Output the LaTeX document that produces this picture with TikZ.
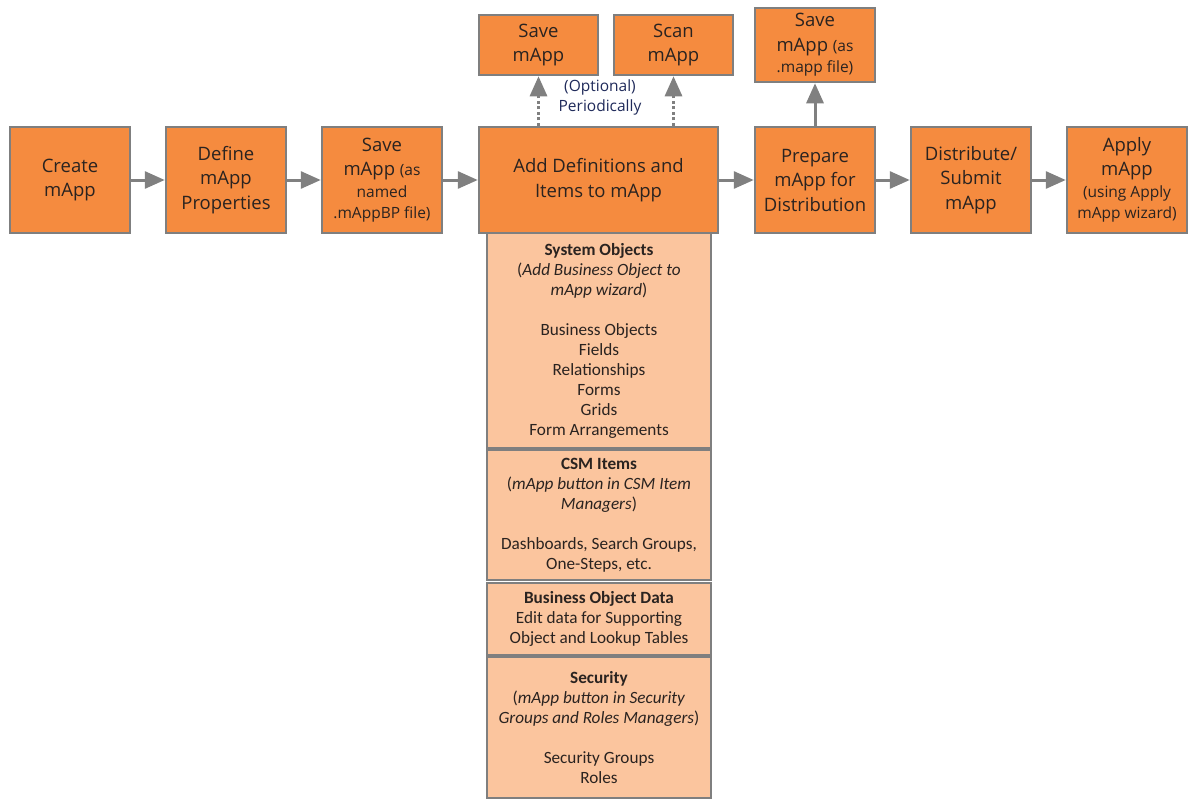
\documentclass[tikz,border=0pt]{standalone}
\usepackage{fontspec}
\setmainfont{Open Sans}
\newfontfamily\stackfont{Carlito}
\usetikzlibrary{arrows.meta}
\definecolor{boxorange}{HTML}{F58B3F}
\definecolor{boxedge}{HTML}{7F7F7F}
\definecolor{stackfill}{HTML}{FBC59E}
\definecolor{arrowgray}{HTML}{808080}
\definecolor{txt}{HTML}{2A2320}
\definecolor{notecol}{HTML}{1F2A5A}
\newcommand{\smalltxt}{\fontsize{15.5}{21}\selectfont}
\begin{document}
\begin{tikzpicture}[x=1pt,y=-1pt,
  stepbox/.style={draw=boxedge,line width=2.5pt,fill=boxorange,text=txt,
    align=center,inner sep=0pt,minimum width=120pt,minimum height=106pt,
    font=\fontsize{18.5}{24.5}\selectfont},
  topbox/.style={stepbox,minimum width=119pt,minimum height=60pt},
  stackbox/.style={draw=boxedge,line width=2.5pt,fill=stackfill,text=txt,
    align=center,inner sep=0pt,minimum width=224pt,
    font=\stackfont\fontsize{17.2}{20}\selectfont},
  flow/.style={draw=arrowgray,line width=3pt,-{Triangle[length=20pt,width=17pt]}},
  dotflow/.style={flow,dash pattern=on 3pt off 2.5pt}
]
\useasboundingbox (0,0) rectangle (1188,798);

% lower stack of item groups
\node[stackbox,minimum height=215pt] (sysobj) at (599,340.5)
  {\textbf{System Objects}\\(\textit{Add Business Object to}\\\textit{mApp wizard})\\[20pt]
   Business Objects\\Fields\\Relationships\\Forms\\Grids\\Form Arrangements};
\node[stackbox,minimum height=130pt] (csm) at (599,515)
  {\textbf{CSM Items}\\(\textit{mApp button in CSM Item}\\\textit{Managers})\\[20pt]
   Dashboards, Search Groups,\\One-Steps, etc.};
\node[stackbox,minimum height=72pt] (bod) at (599,619)
  {\textbf{Business Object Data}\\Edit data for Supporting\\Object and Lookup Tables};
\node[stackbox,minimum height=141pt] (sec) at (599,727.5)
  {\textbf{Security}\\(\textit{mApp button in Security}\\\textit{Groups and Roles Managers})\\[20pt]
   Security Groups\\Roles};

% main flow
\node[stepbox] (create) at (70,180) {Create\\mApp};
\node[stepbox] (define) at (226,180) {Define\\mApp\\Properties};
\node[stepbox] (savebp) at (382,180)
  {Save\\mApp {\smalltxt(as}\\[-3pt]
   {\smalltxt named}\\[-3pt]
   {\smalltxt.mAppBP file)}};
\node[stepbox,minimum width=239pt] (adddef) at (598.5,180)
  {Add Definitions and\\Items to mApp};
\node[stepbox] (prepare) at (815,180) {Prepare\\mApp for\\Distribution};
\node[stepbox] (distrib) at (971,180) {Distribute/\\Submit\\mApp};
\node[stepbox] (apply) at (1127,180)
  {Apply\\mApp\\[-3pt]{\smalltxt(using Apply}\\[-3pt]
   {\smalltxt mApp wizard)}};

% top row
\node[topbox] (savemapp) at (538.5,45) {Save\\mApp};
\node[topbox] (scanmapp) at (673.5,45) {Scan\\mApp};
\node[topbox,minimum width=120pt,minimum height=74pt] (savefile) at (815,45)
  {Save\\mApp {\smalltxt(as}\\[-3pt]
   {\smalltxt.mapp file)}};

% connectors
\draw[flow] (create) -- (define);
\draw[flow] (define) -- (savebp);
\draw[flow] (savebp) -- (adddef);
\draw[flow] (adddef) -- (prepare);
\draw[flow] (prepare) -- (distrib);
\draw[flow] (distrib) -- (apply);
\draw[flow] (prepare.north) -- (savefile.south);
\draw[dotflow] (adddef.north -| savemapp) -- (savemapp.south);
\draw[dotflow] (adddef.north -| scanmapp) -- (scanmapp.south);

\node[text=notecol,align=center,font=\fontsize{15.5}{20}\selectfont] (periodic) at (600,97)
  {(Optional)\\Periodically};
\end{tikzpicture}
\end{document}
